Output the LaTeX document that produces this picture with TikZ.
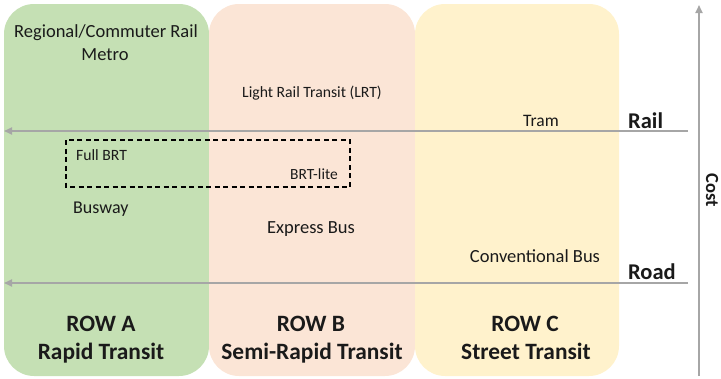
\documentclass[tikz,border=0pt]{standalone}
\usepackage{fontspec}
\setmainfont{Carlito}
\usetikzlibrary{arrows.meta}
\definecolor{rowa}{HTML}{C5E0B4}
\definecolor{rowb}{HTML}{FBE5D6}
\definecolor{rowc}{HTML}{FFF2CC}
\definecolor{axisgray}{HTML}{A6A6A6}
\definecolor{txt}{HTML}{1A1A1A}
\tikzset{
  rowbox/.style={rounded corners=30pt},
  lbl/.style={inner sep=0pt, anchor=base, text=txt},
  axisline/.style={draw=axisgray, line width=1.8pt, -{Triangle[length=8pt,width=7pt]}},
  dashbox/.style={draw=black, line width=1.2pt, dash pattern=on 5pt off 3.5pt},
}
\begin{document}
\begin{tikzpicture}[x=1pt,y=-1pt]
\useasboundingbox (0,0) rectangle (721,378);
% ROW boxes
\fill[rowa, rowbox] (4,4) rectangle (209,376);
\fill[rowb, rowbox] (209,4) rectangle (415,376);
\fill[rowc, rowbox] (415,4) rectangle (619,376);
% dashed BRT box
\draw[dashbox] (66,140) rectangle (350,187);
% axis end coordinates
\coordinate (railR) at (688,131);
\coordinate (railL) at (4,131);
\coordinate (roadR) at (688,283);
\coordinate (roadL) at (4,283);
\coordinate (costB) at (699,376);
\coordinate (costT) at (699,5);
\draw[axisline] (railR) -- (railL);
\draw[axisline] (roadR) -- (roadL);
\draw[axisline] (costB) -- (costT);
% labels
\node[lbl, font=\fontsize{18.5}{22}\selectfont] (regional) at (106,37.5) {Regional/Commuter Rail};
\node[lbl, font=\fontsize{18.5}{22}\selectfont] (metro) at (105,60.5) {Metro};
\node[lbl, font=\fontsize{15.7}{19}\selectfont] (lrt) at (312,97) {Light Rail Transit (LRT)};
\node[lbl, font=\fontsize{17.5}{21}\selectfont] (tram) at (541,126) {Tram};
\node[lbl, anchor=base west, font=\fontsize{15.7}{19}\selectfont] (fullbrt) at (76,160) {Full BRT};
\node[lbl, anchor=base east, font=\fontsize{15.5}{19}\selectfont] (brtlite) at (338,179) {BRT-lite};
\node[lbl, anchor=base west, font=\fontsize{18}{22}\selectfont] (busway) at (73,213) {Busway};
\node[lbl, font=\fontsize{18.5}{22}\selectfont] (express) at (311,233) {Express Bus};
\node[lbl, font=\fontsize{18.5}{22}\selectfont] (conv) at (535,262) {Conventional Bus};
\node[lbl, anchor=base west, font=\bfseries\fontsize{22.5}{27}\selectfont] (rail) at (628,128) {Rail};
\node[lbl, anchor=base west, font=\bfseries\fontsize{22.5}{27}\selectfont] (road) at (628,279) {Road};
\node[inner sep=0pt, text=txt, rotate=-90, font=\bfseries\fontsize{18.5}{22}\selectfont] (cost) at (712,190) {Cost};
\node[lbl, font=\bfseries\fontsize{23.4}{28}\selectfont] (rowA) at (101,331) {ROW A};
\node[lbl, font=\bfseries\fontsize{23.4}{28}\selectfont] (rapid) at (101,359) {Rapid Transit};
\node[lbl, font=\bfseries\fontsize{23.4}{28}\selectfont] (rowB) at (311,331) {ROW B};
\node[lbl, font=\bfseries\fontsize{23.4}{28}\selectfont] (semi) at (312,359) {Semi-Rapid Transit};
\node[lbl, font=\bfseries\fontsize{23.4}{28}\selectfont] (rowC) at (525,331) {ROW C};
\node[lbl, font=\bfseries\fontsize{23.4}{28}\selectfont] (street) at (526,359) {Street Transit};
\end{tikzpicture}
\end{document}
